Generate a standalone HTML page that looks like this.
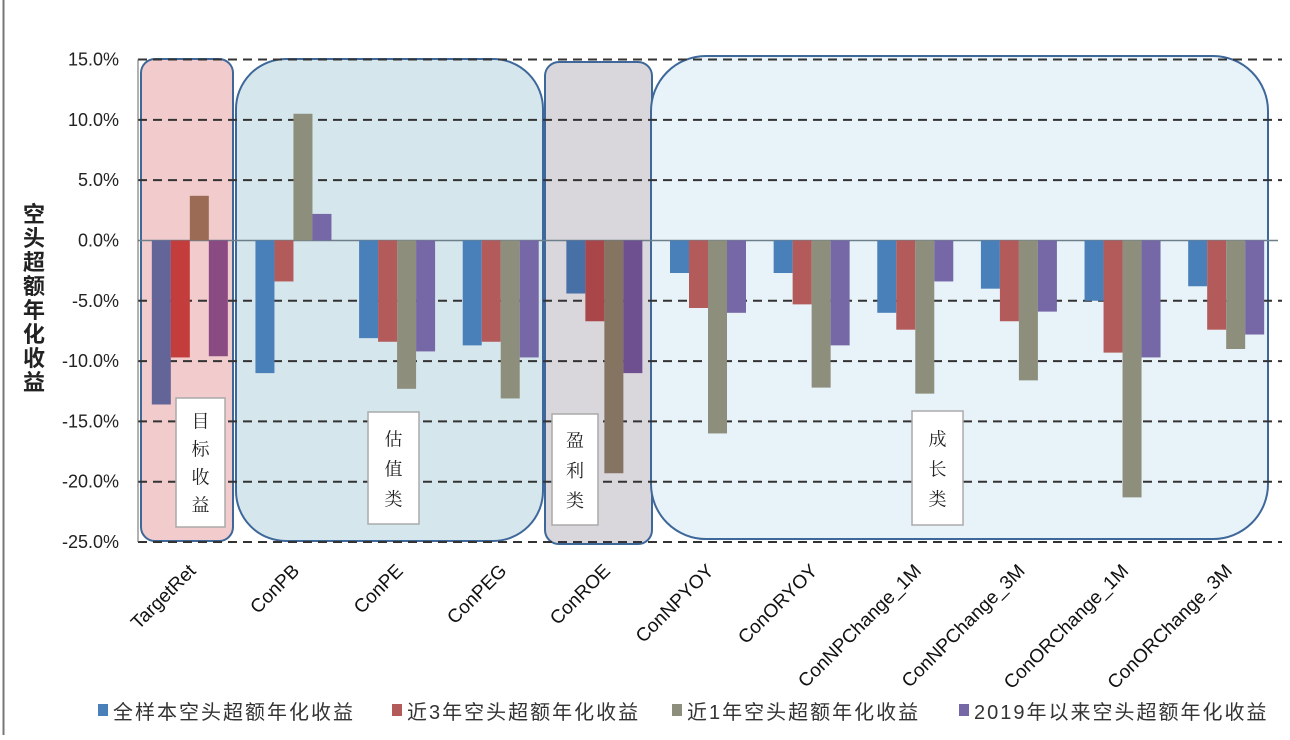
<!DOCTYPE html>
<html><head><meta charset="utf-8"><style>
html,body{margin:0;padding:0;background:#fff;}
svg text{font-family:"Liberation Sans","Noto Sans CJK SC",sans-serif;}
</style></head><body>
<svg id="chart" width="1290" height="735" viewBox="0 0 1290 735" xmlns="http://www.w3.org/2000/svg">
<line x1="3.5" y1="0" x2="3.5" y2="735" stroke="#777" stroke-width="2"/>
<g id="regions"></g>
<g id="grid"></g>
<g id="bars"></g>
<g id="boxlabels"></g>
<g id="yticks"></g>
<g id="xlabels"></g>
<text x="36" y="0" font-size="22" font-weight="bold" fill="#222">
<tspan x="23" y="222">空</tspan><tspan x="23" y="246">头</tspan><tspan x="23" y="270">超</tspan><tspan x="23" y="294">额</tspan><tspan x="23" y="318">年</tspan><tspan x="23" y="342">化</tspan><tspan x="23" y="366">收</tspan><tspan x="23" y="390">益</tspan></text>
<g id="legend"></g>
</svg>
<script>
const categories=["TargetRet","ConPB","ConPE","ConPEG","ConROE","ConNPYOY","ConORYOY","ConNPChange_1M","ConNPChange_3M","ConORChange_1M","ConORChange_3M"];
const seriesNames=["全样本空头超额年化收益","近3年空头超额年化收益","近1年空头超额年化收益","2019年以来空头超额年化收益"];
const sAll=[-13.6,-11.0,-8.1,-8.7,-4.4,-2.7,-2.7,-6.0,-4.0,-5.0,-3.8];
const s3y=[-9.7,-3.4,-8.4,-8.4,-6.7,-5.6,-5.3,-7.4,-6.7,-9.3,-7.4];
const s1y=[3.7,10.5,-12.3,-13.1,-19.3,-16.0,-12.2,-12.7,-11.6,-21.3,-9.0];
const s2019=[-9.6,2.2,-9.2,-9.7,-11.0,-6.0,-8.7,-3.4,-5.9,-9.7,-7.8];
const yTicks=[15,10,5,0,-5,-10,-15,-20,-25];
const series=[sAll,s3y,s1y,s2019];
const colors=["#4a80ba","#b35a5a","#8d8e7c","#7668a6"];
const targetColors=["#636497","#c23d3b","#9c6b55","#8a4a82"];
const roeColors=["#4670a6","#a8464a","#857462","#6e5090"];
const NS="http://www.w3.org/2000/svg";
const X0=138,X1=1278,Y0=59.5,Y1=542;
const yMin=-25,yMax=15;
function y(v){return Y0+(yMax-v)/(yMax-yMin)*(Y1-Y0);}
const band=(X1-X0)/categories.length;
function xc(i){return X0+band*(i+0.5);}
function mk(tag,attrs,parent){const e=document.createElementNS(NS,tag);for(const k in attrs)e.setAttribute(k,attrs[k]);document.getElementById(parent).appendChild(e);return e;}
const regs=[[141,59,92,482,14,"#f2cbcd","region-target-return"],[236,59,307,482,50,"#d5e6ec","region-valuation"],[545,62,107,482,14,"#d9d6dc","region-profit"],[651,56,617,483,55,"#e8f3f9","region-growth"]];
regs.forEach(r=>{const e=mk("rect",{x:r[0],y:r[1],width:r[2],height:r[3],rx:r[4],fill:r[5],stroke:"#3e679a","stroke-width":2},"regions");

});
yTicks.forEach(t=>{
 if(t===0){const l=mk("line",{x1:X0,x2:X1,y1:y(t),y2:y(t),stroke:"#6d7f8a","stroke-width":1.5},"grid");
 
 }
 else{const l=mk("line",{x1:X0,x2:1282,y1:y(t),y2:y(t),stroke:"#333","stroke-width":2,"stroke-dasharray":"9,6"},"grid");
 
 }
 const tx=mk("text",{x:119,y:y(t)+6,"font-size":18,"text-anchor":"end",fill:"#222"},"yticks");
 tx.textContent=t.toFixed(1)+"%";
 
 
});
const ax=mk("line",{x1:X0,x2:X0,y1:Y0,y2:Y1,stroke:"#666","stroke-width":1},"grid");


const bw=19;
categories.forEach((c,i)=>{
 const start=xc(i)-bw*2;
 series.forEach((s,j)=>{
  const v=s[i];const col=i===0?targetColors[j]:(i===4?roeColors[j]:colors[j]);
  const r=mk("rect",{x:start+j*bw,y:Math.min(y(v),y(0)),width:bw,height:Math.abs(y(v)-y(0)),fill:col},"bars");
  
  
 });
 const t=mk("text",{"font-size":19,"text-anchor":"end",fill:"#111",transform:"translate("+(xc(i)+7)+",572) rotate(-45)"},"xlabels");
 t.textContent=c;
 
 
});
const boxes=[[176,398,49,129,["目","标","收","益"],"label-target-return"],[368,412,51,112,["估","值","类"],"label-valuation"],[552,414,46,111,["盈","利","类"],"label-profit"],[912,411,51,114,["成","长","类"],"label-growth"]];
boxes.forEach(b=>{
 const g=mk("g",{},"boxlabels");
 
 
 const r=document.createElementNS(NS,"rect");
 r.setAttribute("x",b[0]);r.setAttribute("y",b[1]);r.setAttribute("width",b[2]);r.setAttribute("height",b[3]);r.setAttribute("fill","#fff");r.setAttribute("stroke","#aaa");r.setAttribute("stroke-width","1.5");
 g.appendChild(r);
 const n=b[4].length;const step=n===4?28:30;const top=b[1]+(b[3]-step*n)/2+step*0.75;
 b[4].forEach((ch,k)=>{const t=document.createElementNS(NS,"text");t.setAttribute("x",b[0]+b[2]/2);t.setAttribute("y",top+k*step);t.setAttribute("text-anchor","middle");t.setAttribute("font-size","18");t.setAttribute("fill","#222");t.setAttribute("style",'font-family:"Noto Serif CJK SC","Liberation Serif",serif');t.textContent=ch;g.appendChild(t);});
});
const lx=[98,392,672,959];
seriesNames.forEach((nm,j)=>{
 const g=mk("g",{},"legend");
 
 
 const r=document.createElementNS(NS,"rect");r.setAttribute("x",lx[j]);r.setAttribute("y",704);r.setAttribute("width",10);r.setAttribute("height",12);r.setAttribute("fill",colors[j]);g.appendChild(r);
 const t=document.createElementNS(NS,"text");t.setAttribute("x",lx[j]+15);t.setAttribute("y",719);t.setAttribute("font-size","20");t.setAttribute("fill","#333");t.setAttribute("letter-spacing","2");t.textContent=nm;g.appendChild(t);
});
</script>
</body></html>
